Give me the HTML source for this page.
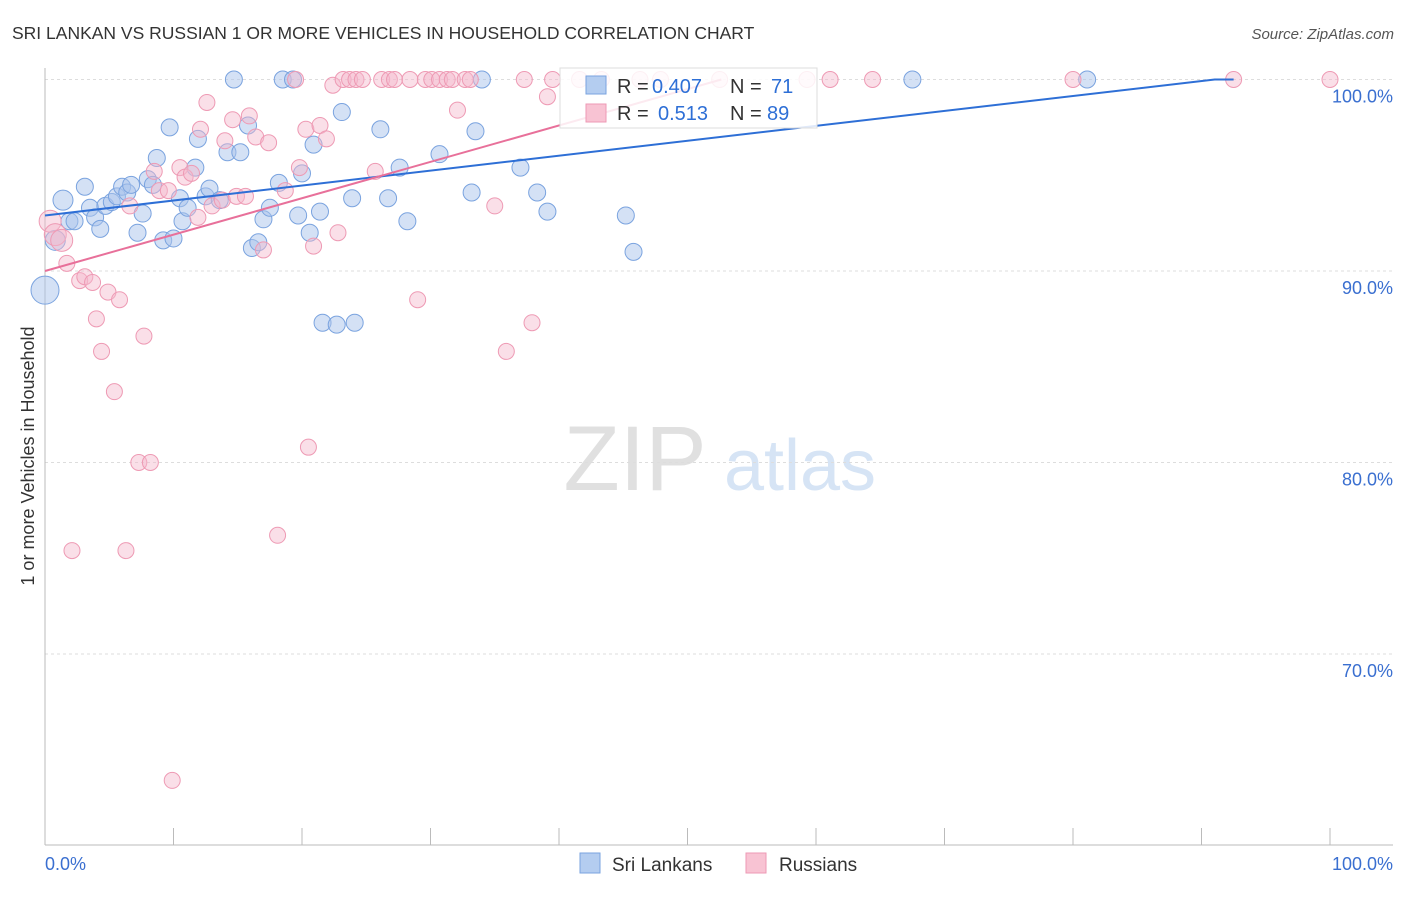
<!DOCTYPE html>
<html><head><meta charset="utf-8"><style>
body{margin:0;background:#fff;font-family:"Liberation Sans",sans-serif}
svg text{font-family:"Liberation Sans",sans-serif}
</style></head><body>
<svg id="chart" width="1406" height="892" xmlns="http://www.w3.org/2000/svg">
<text x="12" y="39" font-size="17.5" fill="#333">SRI LANKAN VS RUSSIAN 1 OR MORE VEHICLES IN HOUSEHOLD CORRELATION CHART</text>
<text x="1394" y="39" font-size="15" fill="#555" text-anchor="end" font-style="italic">Source: ZipAtlas.com</text>
<text transform="translate(34,456) rotate(-90)" font-size="18" fill="#333" text-anchor="middle">1 or more Vehicles in Household</text>
<g><text x="635" y="490" font-size="92" fill="#e0e0e0" text-anchor="middle" font-family="Liberation Serif,serif">ZIP</text><text x="800" y="490" font-size="72" fill="#d6e4f5" text-anchor="middle">atlas</text></g>
<g id="grid"></g><g id="marks"></g><g id="lines"></g>
<g>
<rect x="560" y="68" width="257" height="60" fill="#fff" fill-opacity="0.85" stroke="#ddd"/>
<rect x="586" y="76" width="20" height="18" fill="#b4cdf0" stroke="#7aa3df"/>
<text x="617" y="93" font-size="20" fill="#333">R =</text>
<text x="652" y="93" font-size="20" fill="#2e6fd6">0.407</text>
<text x="730" y="93" font-size="20" fill="#333">N =</text>
<text x="771" y="93" font-size="20" fill="#2e6fd6">71</text>
<rect x="586" y="104" width="20" height="18" fill="#f8c3d3" stroke="#ee9ab4"/>
<text x="617" y="120" font-size="20" fill="#333">R =</text>
<text x="658" y="120" font-size="20" fill="#2e6fd6">0.513</text>
<text x="730" y="120" font-size="20" fill="#333">N =</text>
<text x="767" y="120" font-size="20" fill="#2e6fd6">89</text>
</g>
<g>
<rect x="580" y="853" width="20" height="20" fill="#b4cdf0" stroke="#7aa3df"/><text x="612" y="871" font-size="19" fill="#333">Sri Lankans</text>
<rect x="746" y="853" width="20" height="20" fill="#f8c3d3" stroke="#ee9ab4"/><text x="779" y="871" font-size="19" fill="#333">Russians</text>
</g>
</svg>
<script>
const blueX=[0,0.8,1.4,1.9,2.3,3.1,3.5,3.9,4.3,4.7,5.2,5.6,6.0,6.4,6.7,7.2,7.6,8.0,8.4,8.7,9.2,9.7,10.0,10.5,10.7,11.1,11.7,11.9,12.5,12.8,13.6,14.2,14.7,15.2,15.8,16.1,16.6,17.0,17.5,18.2,18.5,19.3,19.7,20.0,20.6,20.9,21.4,21.6,22.7,23.1,23.9,24.1,26.1,26.7,27.6,28.2,30.7,33.2,33.5,34.0,37.0,38.3,39.1,45.2,45.8,67.5,81.1];
const blueY=[89.0,91.6,93.7,92.6,92.6,94.4,93.3,92.8,92.2,93.4,93.6,93.9,94.4,94.1,94.5,92.0,93.0,94.8,94.5,95.9,91.6,97.5,91.7,93.8,92.6,93.3,95.4,96.9,93.9,94.3,93.7,96.2,100,96.2,97.6,91.2,91.5,92.7,93.3,94.6,100,100,92.9,95.1,92.0,96.6,93.1,87.3,87.2,98.3,93.8,87.3,97.4,93.8,95.4,92.6,96.1,94.1,97.3,100,95.4,94.1,93.1,92.9,91.0,100,100];
const pinkX=[0.4,0.8,1.3,1.7,2.1,2.7,3.1,3.7,4.0,4.4,4.9,5.4,5.8,6.3,6.6,7.3,7.7,8.2,8.5,8.9,9.6,9.9,10.5,10.9,11.4,11.9,12.1,12.6,13.0,13.8,14.0,14.6,14.9,15.6,15.9,16.4,17.0,17.4,18.1,18.7,19.5,19.8,20.3,20.5,20.9,21.4,21.9,22.4,22.8,23.2,23.7,24.2,24.7,25.7,26.2,26.8,27.2,28.4,29.0,29.6,30.1,30.7,31.3,31.7,32.1,32.7,33.1,35.0,35.9,37.3,37.9,39.1,39.5,41.6,43.3,46.3,47.9,52.5,59.3,61.1,64.4,80.0,92.5,100];
const pinkY=[92.6,91.9,91.6,90.4,75.4,89.5,89.7,89.4,87.5,85.8,88.9,83.7,88.5,75.4,93.4,80.0,86.6,80.0,95.2,94.2,94.2,63.4,95.4,94.9,95.1,92.8,97.4,98.8,93.4,93.7,96.8,97.9,93.9,93.9,98.1,97.0,91.1,96.7,76.2,94.2,100,95.4,97.4,80.8,91.3,97.6,96.9,99.7,92.0,100,100,100,100,95.2,100,100,100,100,88.5,100,100,100,100,100,98.4,100,100,93.4,85.8,100,87.3,99.1,100,100,100,100,100,100,100,100,100,100,100,100];
const trendIntercept=[92.9,90.0];
const trendSlope=[0.078,0.19];
const yTicks=[100,90,80,70];
const xTickLabels=["0.0%","100.0%"];
const NS="http://www.w3.org/2000/svg";
const sx=v=>45+v*12.85, sy=v=>79.5+(100-v)*19.15;
function mk(t,a,p){const e=document.createElementNS(NS,t);for(const k in a)e.setAttribute(k,a[k]);p.appendChild(e);return e;}
const grid=document.getElementById('grid');
yTicks.forEach(v=>{
 const l=mk('line',{x1:45,x2:1393,y1:sy(v),y2:sy(v),stroke:'#ddd','stroke-dasharray':'3,3'},grid);
 
 
 const t=mk('text',{x:1393,y:sy(v)+23,'font-size':18,fill:'#3a6fd0','text-anchor':'end'},grid);
 t.textContent=v.toFixed(1)+'%';
 
 
});
const ax=mk('line',{x1:45,x2:45,y1:68,y2:845,stroke:'#bbb'},grid);


const bx=mk('line',{x1:45,x2:1393,y1:845,y2:845,stroke:'#bbb'},grid);


for(let i=0;i<=10;i++){const t=mk('line',{x1:sx(i*10),x2:sx(i*10),y1:828,y2:845,stroke:'#bbb'},grid);
 
 }
[[0,'start'],[100,'end']].forEach((p,i)=>{const t=mk('text',{x:sx(p[0])+(i?63:0),y:870,'font-size':18,fill:'#3a6fd0','text-anchor':p[1]},grid);t.textContent=xTickLabels[i];
 
 });
const marks=document.getElementById('marks');
blueX.forEach((x,i)=>{const c=mk('circle',{cx:sx(x),cy:sy(blueY[i]),r:i===0?14:(i<3?10:8.5),fill:'#a9c4ec','fill-opacity':0.5,stroke:'#7aa3df'},marks);
 
 });
pinkX.forEach((x,i)=>{const c=mk('circle',{cx:sx(x),cy:sy(pinkY[i]),r:i<3?11:8,fill:'#f5b8cb','fill-opacity':0.45,stroke:'#ee9ab4'},marks);
 
 });
const lines=document.getElementById('lines');
const colors=['#2e6fd6','#e8709a'];
trendIntercept.forEach((b,i)=>{const xe=Math.min((100-b)/trendSlope[i],100);
 const l=mk('path',{d:`M${sx(0)},${sy(b)}L${sx(xe)},${sy(b+trendSlope[i]*xe)}`+(i===0?`L${sx(92.5)},${sy(100)}`:''),stroke:colors[i],'stroke-width':2,fill:'none'},lines);
 
 });
</script>
</body></html>
